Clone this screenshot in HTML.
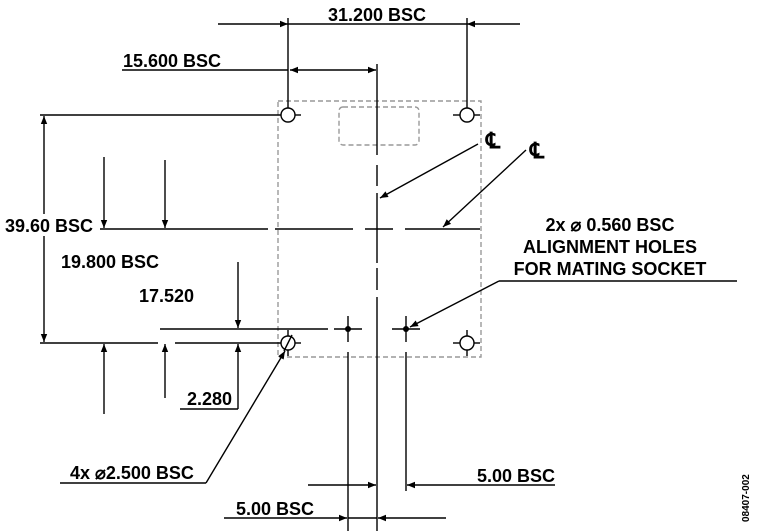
<!DOCTYPE html>
<html><head><meta charset="utf-8"><style>
html,body{margin:0;padding:0;background:#fff;}
svg{display:block;}
text{font-family:"Liberation Sans",Arial,sans-serif;font-weight:bold;fill:#000;}
</style></head><body>
<svg width="757" height="531" viewBox="0 0 757 531" xmlns="http://www.w3.org/2000/svg">
<defs>
<marker id="a" viewBox="0 0 10 10" refX="10" refY="5" markerWidth="16" markerHeight="8" markerUnits="userSpaceOnUse" orient="auto"><path d="M0,1 L10,5 L0,9 z" fill="#000"/></marker>
</defs>
<g stroke="#000" stroke-width="1.4" fill="none">
<rect x="278" y="101" width="203" height="256" stroke="#999" stroke-dasharray="5,3"/>
<rect x="339" y="107" width="80" height="38" rx="4" stroke="#999" stroke-dasharray="5,3"/>
<line x1="218" y1="24" x2="288" y2="24" marker-end="url(#a)"/>
<line x1="520" y1="24" x2="467" y2="24" marker-end="url(#a)"/>
<line x1="288" y1="24" x2="467" y2="24"/>
<line x1="288" y1="18" x2="288" y2="108"/>
<line x1="467" y1="18" x2="467" y2="108"/>
<line x1="122" y1="70" x2="288" y2="70"/>
<line x1="332" y1="70" x2="290" y2="70" marker-end="url(#a)"/>
<line x1="332" y1="70" x2="376" y2="70" marker-end="url(#a)"/>
<line x1="377" y1="64" x2="377" y2="155"/>
<line x1="377" y1="165" x2="377" y2="186"/>
<line x1="377" y1="193" x2="377" y2="263"/>
<line x1="377" y1="268" x2="377" y2="290"/>
<line x1="377" y1="297" x2="377" y2="531"/>
<line x1="100" y1="229" x2="268" y2="229"/>
<line x1="275" y1="229" x2="353" y2="229"/>
<line x1="365" y1="229" x2="393" y2="229"/>
<line x1="405" y1="229" x2="480" y2="229"/>
<line x1="40" y1="115" x2="281" y2="115"/>
<line x1="40" y1="343" x2="158" y2="343"/>
<line x1="175" y1="343" x2="281" y2="343"/>
<line x1="160" y1="329" x2="328" y2="329"/>
<circle cx="288" cy="115" r="7"/><line x1="295" y1="115" x2="301" y2="115"/>
<circle cx="467" cy="115" r="7"/><line x1="453" y1="115" x2="460" y2="115"/><line x1="474" y1="115" x2="480" y2="115"/>
<circle cx="288" cy="343" r="7"/><line x1="295" y1="343" x2="301" y2="343"/><line x1="288" y1="336" x2="288" y2="330"/><line x1="288" y1="350" x2="288" y2="356"/><line x1="284" y1="351" x2="292" y2="335"/>
<circle cx="467" cy="343" r="7"/><line x1="453" y1="343" x2="460" y2="343"/><line x1="474" y1="343" x2="480" y2="343"/><line x1="467" y1="330" x2="467" y2="336"/><line x1="467" y1="350" x2="467" y2="356"/>
<line x1="334" y1="329" x2="362" y2="329"/><line x1="348" y1="316" x2="348" y2="342"/>
<line x1="392" y1="329" x2="420" y2="329"/><line x1="406" y1="316" x2="406" y2="342"/>
<line x1="348" y1="352" x2="348" y2="531"/>
<line x1="406" y1="352" x2="406" y2="491"/>
<line x1="44" y1="229" x2="44" y2="116" marker-end="url(#a)"/>
<line x1="44" y1="229" x2="44" y2="342" marker-end="url(#a)"/>
<line x1="104" y1="157" x2="104" y2="228" marker-end="url(#a)"/>
<line x1="104" y1="414" x2="104" y2="344" marker-end="url(#a)"/>
<line x1="165" y1="160" x2="165" y2="228" marker-end="url(#a)"/>
<line x1="165" y1="398" x2="165" y2="344" marker-end="url(#a)"/>
<line x1="238" y1="262" x2="238" y2="328" marker-end="url(#a)"/>
<line x1="238" y1="409" x2="238" y2="344" marker-end="url(#a)"/>
<line x1="180" y1="409" x2="238" y2="409"/>
<line x1="308" y1="485" x2="376" y2="485" marker-end="url(#a)"/>
<line x1="555" y1="485" x2="407" y2="485" marker-end="url(#a)"/>
<line x1="224" y1="518" x2="347" y2="518" marker-end="url(#a)"/>
<line x1="446" y1="518" x2="378" y2="518" marker-end="url(#a)"/>
<line x1="348" y1="518" x2="377" y2="518"/>
<line x1="60" y1="483" x2="206" y2="483"/>
<line x1="206" y1="483" x2="285" y2="351" marker-end="url(#a)"/>
<line x1="478" y1="144" x2="380" y2="198" marker-end="url(#a)"/>
<line x1="526" y1="150" x2="443" y2="227" marker-end="url(#a)"/>
<line x1="499" y1="281" x2="737" y2="281"/>
<line x1="499" y1="281" x2="410" y2="327" marker-end="url(#a)"/>
</g>
<circle cx="348" cy="329" r="3" fill="#000"/>
<circle cx="406" cy="329" r="3" fill="#000"/>
<g fill="#fff">
<rect x="4" y="214" width="92" height="22"/>
<rect x="60" y="249" width="102" height="22"/>
<rect x="138" y="283" width="60" height="22"/>
</g>
<g font-size="18">
<text x="377" y="21" text-anchor="middle">31.200 BSC</text>
<text x="123" y="67">15.600 BSC</text>
<text x="5" y="232">39.60 BSC</text>
<text x="61" y="268">19.800 BSC</text>
<text x="139" y="302">17.520</text>
<text x="187" y="405">2.280</text>
<text x="70" y="479">4x ⌀2.500 BSC</text>
<text x="555" y="482" text-anchor="end">5.00 BSC</text>
<text x="314" y="515" text-anchor="end">5.00 BSC</text>
<text x="610" y="231" text-anchor="middle">2x ⌀ 0.560 BSC</text>
<text x="610" y="253" text-anchor="middle">ALIGNMENT HOLES</text>
<text x="610" y="275" text-anchor="middle">FOR MATING SOCKET</text>
</g>
<text x="486" y="148" font-size="22" font-weight="normal">℄</text>
<text x="530" y="158" font-size="22" font-weight="normal">℄</text>
<text x="0" y="0" font-size="10" font-weight="normal" transform="translate(749,522) rotate(-90)">08407-002</text>
</svg>
</body></html>
